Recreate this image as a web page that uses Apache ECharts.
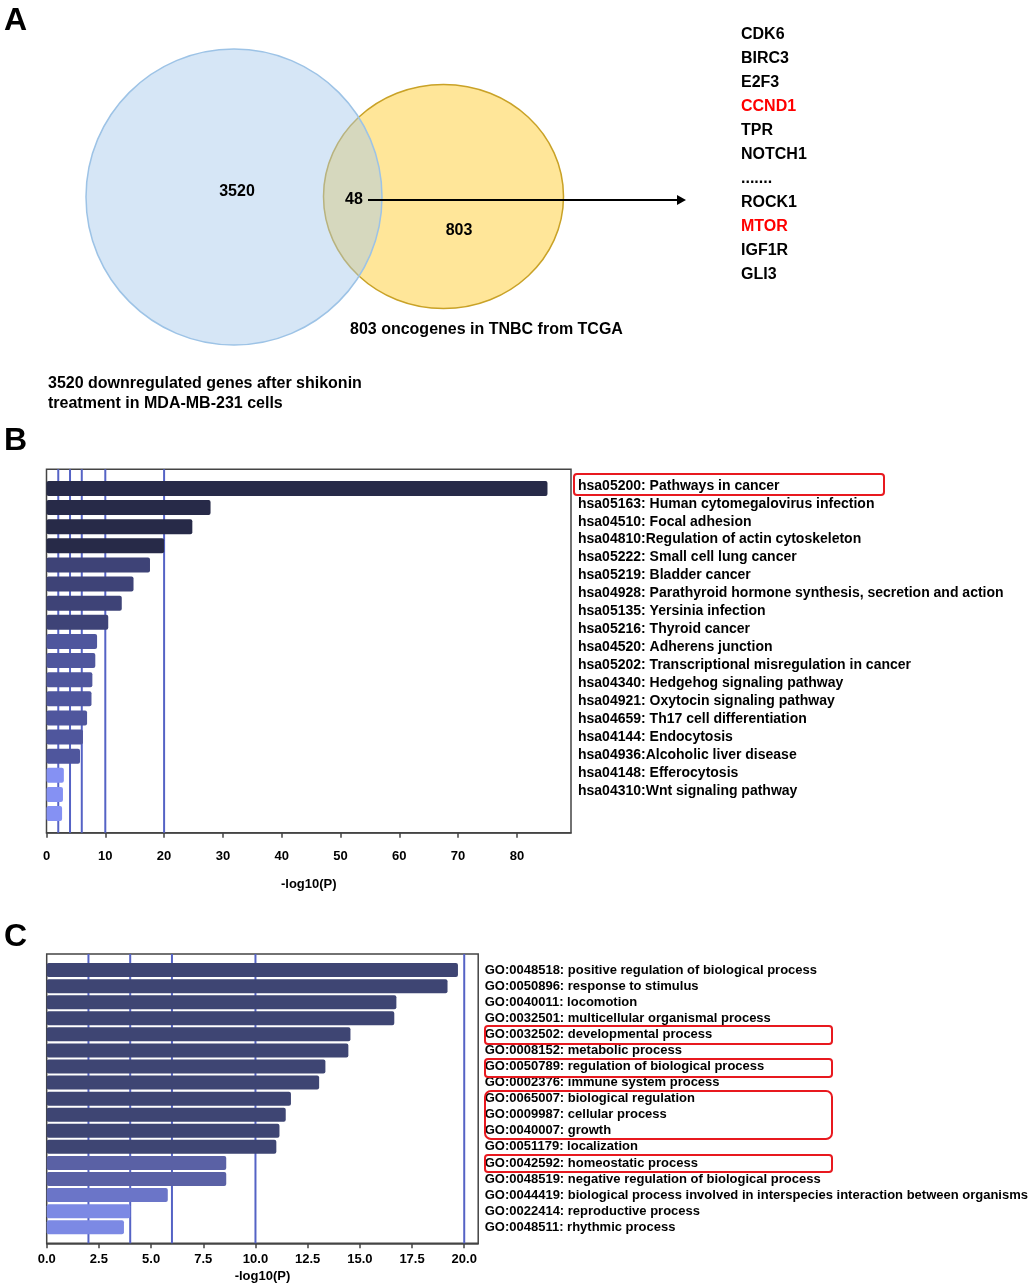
<!DOCTYPE html>
<html>
<head>
<meta charset="utf-8">
<script src="https://cdn.jsdelivr.net/npm/echarts@6/dist/echarts.min.js"></script>
<style>
  html, body { margin: 0; padding: 0; background: #fff; }
  #main { width: 1031px; height: 1286px; }
</style>
</head>
<body>
<div id="main"></div>
<script>
// panel A: venn of downregulated genes vs TNBC oncogenes
var vennLabels = ['3520 downregulated genes after shikonin', 'treatment in MDA-MB-231 cells', '803 oncogenes in TNBC from TCGA'];
var vennCounts = [3520, 48, 803]; // left only, overlap, right only
var overlapGenes = ['CDK6', 'BIRC3', 'E2F3', 'CCND1', 'TPR', 'NOTCH1', '.......', 'ROCK1', 'MTOR', 'IGF1R', 'GLI3'];
var highlightGenes = ['CCND1', 'MTOR'];

// panel B: KEGG enrichment
var keggTerms = [
    'hsa05200: Pathways in cancer',
    'hsa05163: Human cytomegalovirus infection',
    'hsa04510: Focal adhesion',
    'hsa04810:Regulation of actin cytoskeleton',
    'hsa05222: Small cell lung cancer',
    'hsa05219: Bladder cancer',
    'hsa04928: Parathyroid hormone synthesis, secretion and action',
    'hsa05135: Yersinia infection',
    'hsa05216: Thyroid cancer',
    'hsa04520: Adherens junction',
    'hsa05202: Transcriptional misregulation in cancer',
    'hsa04340: Hedgehog signaling pathway',
    'hsa04921: Oxytocin signaling pathway',
    'hsa04659: Th17 cell differentiation',
    'hsa04144: Endocytosis',
    'hsa04936:Alcoholic liver disease',
    'hsa04148: Efferocytosis',
    'hsa04310:Wnt signaling pathway'
];
var keggValues = [85.2, 27.9, 24.8, 20.0, 17.6, 14.8, 12.8, 10.5, 8.6, 8.3, 7.8, 7.65, 6.9, 6.2, 5.7, 2.95, 2.8, 2.65];

// panel C: GO enrichment
var goTerms = [
    'GO:0048518: positive regulation of biological process',
    'GO:0050896: response to stimulus',
    'GO:0040011: locomotion',
    'GO:0032501: multicellular organismal process',
    'GO:0032502: developmental process',
    'GO:0008152: metabolic process',
    'GO:0050789: regulation of biological process',
    'GO:0002376: immune system process',
    'GO:0065007: biological regulation',
    'GO:0009987: cellular process',
    'GO:0040007: growth',
    'GO:0051179: localization',
    'GO:0042592: homeostatic process',
    'GO:0048519: negative regulation of biological process',
    'GO:0044419: biological process involved in interspecies interaction between organisms',
    'GO:0022414: reproductive process',
    'GO:0048511: rhythmic process'
];
var goValues = [19.7, 19.2, 16.75, 16.65, 14.55, 14.45, 13.35, 13.05, 11.7, 11.45, 11.15, 11.0, 8.6, 8.6, 5.8, 4.0, 3.7];

var cutoffLines = [2, 4, 6, 10, 20];

var FONT = '"Liberation Sans", Arial, sans-serif';
var myChart = echarts.init(document.getElementById('main'));

// colour bands follow the rank of the term
function keggColor(i) {
    if (i < 4) return '#272a48';
    if (i < 8) return '#3e4377';
    if (i < 15) return '#4f569d';
    return '#8591f3';
}
function goColor(i) {
    if (i < 12) return '#3e4573';
    if (i < 14) return '#5a61a5';
    if (i < 15) return '#6b75c8';
    return '#7c89e4';
}

// one empty slot above and below so the bars sit half a step off the frame
function padCats(list) { return [''].concat(list).concat(['']); }
function padBars(list, colorFn) {
    var out = ['-'];
    list.forEach(function (v, i) {
        out.push({ value: v, itemStyle: { color: colorFn(i) } });
    });
    out.push('-');
    return out;
}

// vertical cutoff lines, from the top slot to the bottom slot, drawn under the bars
function cutoffSeries(axisIndex, count) {
    return cutoffLines.map(function (v) {
        return {
            type: 'line', xAxisIndex: axisIndex, yAxisIndex: axisIndex, z: 1,
            silent: true, symbol: 'none', showSymbol: false,
            lineStyle: { color: '#5563c5', width: 2 },
            data: [[v, 0], [v, count + 1]]
        };
    });
}

// ---------- panel A graphics ----------
var graphics = [
    { type: 'text', left: 4, top: 5, style: { text: 'A', font: 'bold 32px ' + FONT, fill: '#000' } },
    { type: 'text', left: 4, top: 425, style: { text: 'B', font: 'bold 32px ' + FONT, fill: '#000' } },
    { type: 'text', left: 4, top: 921, style: { text: 'C', font: 'bold 32px ' + FONT, fill: '#000' } },
    {
        type: 'ellipse', z: 1,
        shape: { cx: 443.5, cy: 196.5, rx: 120, ry: 112 },
        style: { fill: 'rgba(255,213,85,0.6)', stroke: '#c9a227', lineWidth: 1.5 }
    },
    {
        type: 'ellipse', z: 2,
        shape: { cx: 234, cy: 197, rx: 148, ry: 148 },
        style: { fill: 'rgba(165,200,235,0.45)', stroke: '#9dc3e6', lineWidth: 1.5 }
    },
    { type: 'text', z: 5, x: 237, y: 192, style: { text: String(vennCounts[0]), font: 'bold 16px ' + FONT, fill: '#000', align: 'center', verticalAlign: 'middle' } },
    { type: 'text', z: 5, x: 354, y: 200, style: { text: String(vennCounts[1]), font: 'bold 16px ' + FONT, fill: '#000', align: 'center', verticalAlign: 'middle' } },
    { type: 'text', z: 5, x: 459, y: 231, style: { text: String(vennCounts[2]), font: 'bold 16px ' + FONT, fill: '#000', align: 'center', verticalAlign: 'middle' } },
    { type: 'line', z: 5, shape: { x1: 368, y1: 200, x2: 679, y2: 200 }, style: { stroke: '#000', lineWidth: 2 } },
    { type: 'polygon', z: 5, shape: { points: [[677, 195], [686, 200], [677, 205]] }, style: { fill: '#000' } },
    { type: 'text', z: 5, x: 350, y: 330, style: { text: vennLabels[2], font: 'bold 16px ' + FONT, fill: '#000', verticalAlign: 'middle' } },
    { type: 'text', z: 5, x: 48, y: 384, style: { text: vennLabels[0], font: 'bold 16px ' + FONT, fill: '#000', verticalAlign: 'middle' } },
    { type: 'text', z: 5, x: 48, y: 404, style: { text: vennLabels[1], font: 'bold 16px ' + FONT, fill: '#000', verticalAlign: 'middle' } },
    // red highlight boxes
    { type: 'rect', z: 5, shape: { x: 574, y: 474, width: 310, height: 21, r: 3 }, style: { fill: 'none', stroke: '#e8191f', lineWidth: 2 } },
    { type: 'rect', z: 5, shape: { x: 485, y: 1026, width: 347, height: 18, r: 3 }, style: { fill: 'none', stroke: '#e8191f', lineWidth: 2 } },
    { type: 'rect', z: 5, shape: { x: 485, y: 1059, width: 347, height: 18, r: 3 }, style: { fill: 'none', stroke: '#e8191f', lineWidth: 2 } },
    { type: 'rect', z: 5, shape: { x: 485, y: 1091, width: 347, height: 48, r: 6 }, style: { fill: 'none', stroke: '#e8191f', lineWidth: 2 } },
    { type: 'rect', z: 5, shape: { x: 485, y: 1155, width: 347, height: 17, r: 3 }, style: { fill: 'none', stroke: '#e8191f', lineWidth: 2 } }
];
overlapGenes.forEach(function (g, i) {
    graphics.push({
        type: 'text', z: 5, x: 741, y: 35 + i * 24,
        style: {
            text: g, font: 'bold 16px ' + FONT, verticalAlign: 'middle',
            fill: highlightGenes.indexOf(g) >= 0 ? '#ff0000' : '#000'
        }
    });
});

var axisText = { fontFamily: FONT, fontWeight: 'bold', fontSize: 13, color: '#000' };

option = {
    animation: false,
    backgroundColor: '#fff',
    graphic: graphics,
    grid: [
        { left: 46.5, top: 469.3, width: 524.5, height: 363.4, show: true, borderColor: '#444', borderWidth: 1.5, containLabel: false },
        { left: 576, top: 467.8, width: 1, height: 341.1, show: false },
        { left: 46.7, top: 954, width: 435, height: 289.3, show: true, borderColor: '#444', borderWidth: 1.5, containLabel: false }
    ],
    xAxis: [
        {
            gridIndex: 0, type: 'value', min: 0, max: 89.2, interval: 10,
            splitLine: { show: false },
            axisLine: { show: true, lineStyle: { color: '#444', width: 1.5 } },
            axisTick: { show: true, inside: false, length: 5, lineStyle: { color: '#444', width: 1.5 } },
            axisLabel: Object.assign({ margin: 17, showMaxLabel: false }, axisText),
            name: '-log10(P)', nameLocation: 'middle', nameGap: 45, nameTextStyle: axisText
        },
        { gridIndex: 1, type: 'value', show: false, min: 0, max: 1 },
        {
            gridIndex: 2, type: 'value', min: 0, max: 20.67, interval: 2.5,
            splitLine: { show: false },
            axisLine: { show: true, lineStyle: { color: '#444', width: 1.5 } },
            axisTick: { show: true, inside: false, length: 5, lineStyle: { color: '#444', width: 1.5 } },
            axisLabel: Object.assign({ margin: 10, showMaxLabel: false, formatter: function (v) { return v.toFixed(1); } }, axisText),
            name: '-log10(P)', nameLocation: 'middle', nameGap: 27, nameTextStyle: axisText
        }
    ],
    yAxis: [
        {
            gridIndex: 0, type: 'category', inverse: true, boundaryGap: false,
            data: padCats(keggTerms),
            axisLine: { show: false }, axisTick: { show: false }, axisLabel: { show: false }, splitLine: { show: false }
        },
        {
            gridIndex: 1, type: 'category', inverse: true, boundaryGap: false, position: 'right',
            data: padCats(keggTerms),
            axisLine: { show: false }, axisTick: { show: false }, splitLine: { show: false },
            axisLabel: { show: true, margin: 1, align: 'left', fontFamily: FONT, fontWeight: 'bold', fontSize: 14, color: '#000', interval: 0 }
        },
        {
            gridIndex: 2, type: 'category', inverse: true, boundaryGap: false, position: 'right',
            data: padCats(goTerms),
            axisLine: { show: false }, axisTick: { show: false }, splitLine: { show: false },
            axisLabel: { show: true, margin: 6.5, align: 'left', fontFamily: FONT, fontWeight: 'bold', fontSize: 13, color: '#000', interval: 0 }
        }
    ],
    series: cutoffSeries(0, keggValues.length).concat([
        {
            name: 'KEGG', type: 'bar', xAxisIndex: 0, yAxisIndex: 0, z: 3,
            barWidth: 15,
            itemStyle: { borderRadius: 2 },
            data: padBars(keggValues, keggColor)
        }
    ]).concat(cutoffSeries(2, goValues.length)).concat([
        {
            name: 'GO', type: 'bar', xAxisIndex: 2, yAxisIndex: 2, z: 3,
            barWidth: 14,
            itemStyle: { borderRadius: 2 },
            data: padBars(goValues, goColor)
        }
    ])
};
myChart.setOption(option);
</script>
</body>
</html>
